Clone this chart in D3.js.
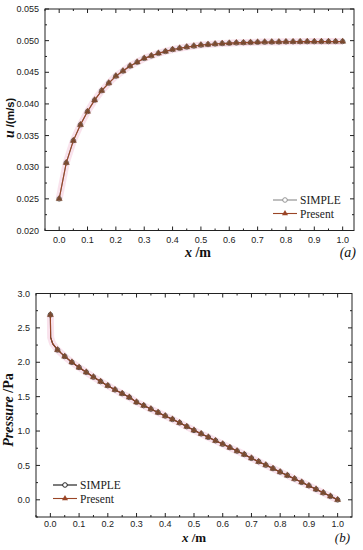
<!DOCTYPE html>
<html><head><meta charset="utf-8">
<script src="https://cdn.jsdelivr.net/npm/d3@7"></script>
<style>body{margin:0;background:#fff}svg{display:block}</style>
</head><body>
<svg id="c" width="363" height="550"></svg>
<script>
// ---------- data ----------
const xPos = [0,0.025,0.05,0.075,0.1,0.125,0.15,0.175,0.2,0.225,0.25,0.275,0.3,0.325,0.35,0.375,0.4,0.425,0.45,0.475,0.5,
  0.525,0.55,0.575,0.6,0.625,0.65,0.675,0.7,0.725,0.75,0.775,0.8,0.825,0.85,0.875,0.9,0.925,0.95,0.975,1.0];
const uSimple = [0.0250,0.0307,0.0342,0.0367,0.0388,0.0406,0.0421,0.0433,0.0444,0.0452,0.0460,0.0466,0.0472,0.0476,0.0480,0.0483,0.0486,0.0488,0.0490,0.04915,0.0493,
  0.0494,0.04948,0.04955,0.0496,0.04965,0.04968,0.04972,0.04975,0.04977,0.04979,0.0498,0.04982,0.04983,0.04984,0.04985,0.04985,0.04986,0.04986,0.04987,0.04987];
const uPresent = [0.0250,0.0307,0.0342,0.0367,0.0388,0.0406,0.0421,0.0433,0.0444,0.0452,0.0460,0.0466,0.0472,0.0476,0.0480,0.0483,0.0486,0.0488,0.0490,0.04915,0.0493,
  0.0494,0.04948,0.04955,0.0496,0.04965,0.04968,0.04972,0.04975,0.04977,0.04979,0.0498,0.04982,0.04983,0.04984,0.04985,0.04985,0.04986,0.04986,0.04987,0.04987];
// pressure: includes two unmarked near-inlet points of the line
const pX = [0,0.001,0.008,0.025,0.05,0.075,0.1,0.125,0.15,0.175,0.2,0.225,0.25,0.275,0.3,0.325,0.35,0.375,0.4,0.425,0.45,0.475,0.5,
  0.525,0.55,0.575,0.6,0.625,0.65,0.675,0.7,0.725,0.75,0.775,0.8,0.825,0.85,0.875,0.9,0.925,0.95,0.975,1.0];
const pSimple = [2.69,2.36,2.27,2.18,2.085,2.00,1.925,1.855,1.785,1.72,1.66,1.60,1.545,1.49,1.42,1.37,1.32,1.27,1.22,1.17,1.12,1.065,1.01,
  0.96,0.91,0.86,0.81,0.76,0.71,0.66,0.605,0.555,0.505,0.455,0.405,0.355,0.305,0.255,0.205,0.153,0.102,0.051,0.0];
const pPresent = [2.69,2.36,2.27,2.18,2.085,2.00,1.925,1.855,1.785,1.72,1.66,1.60,1.545,1.49,1.42,1.37,1.32,1.27,1.22,1.17,1.12,1.065,1.01,
  0.96,0.91,0.86,0.81,0.76,0.71,0.66,0.605,0.555,0.505,0.455,0.405,0.355,0.305,0.255,0.205,0.153,0.102,0.051,0.0];
const xTicks = [0,0.1,0.2,0.3,0.4,0.5,0.6,0.7,0.8,0.9,1.0];
const uTicks = [0.020,0.025,0.030,0.035,0.040,0.045,0.050,0.055];
const pTicks = [0,0.5,1.0,1.5,2.0,2.5,3.0];
const seriesNames = ["SIMPLE","Present"];

// ---------- drawing ----------
const svg = d3.select("#c");
const brown = "#9a4526", gray = "#8a8a8a";
const isMark = x => Math.abs(x*40 - Math.round(x*40)) < 1e-6;

function frame(g, x, y, xt, xMinor, yt, yMinor, xFmt, yFmt, xLabOff) {
  const [x0,x1] = x.range(), [y0,y1] = y.range();
  g.append("rect").attr("x",x0).attr("y",y1).attr("width",x1-x0).attr("height",y0-y1)
    .attr("fill","none").attr("stroke","#222").attr("stroke-width",1);
  const tk = g.append("g").attr("stroke","#222").attr("stroke-width",1);
  xt.forEach(v=>{const px=x(v);
    tk.append("line").attr("x1",px).attr("x2",px).attr("y1",y0).attr("y2",y0-4);
    tk.append("line").attr("x1",px).attr("x2",px).attr("y1",y1).attr("y2",y1+4);});
  xMinor.forEach(v=>{const px=x(v);
    tk.append("line").attr("x1",px).attr("x2",px).attr("y1",y0).attr("y2",y0-2);
    tk.append("line").attr("x1",px).attr("x2",px).attr("y1",y1).attr("y2",y1+2);});
  yt.forEach(v=>{const py=y(v);
    tk.append("line").attr("x1",x0).attr("x2",x0+4).attr("y1",py).attr("y2",py);
    tk.append("line").attr("x1",x1).attr("x2",x1-4).attr("y1",py).attr("y2",py);});
  yMinor.forEach(v=>{const py=y(v);
    tk.append("line").attr("x1",x0).attr("x2",x0+2).attr("y1",py).attr("y2",py);
    tk.append("line").attr("x1",x1).attr("x2",x1-2).attr("y1",py).attr("y2",py);});
  const lab = g.append("g").attr("font-family","'Liberation Sans',Arial,sans-serif").attr("font-size",9).attr("fill","#222");
  xt.forEach(v=>lab.append("text").attr("x",x(v)).attr("y",y0+xLabOff).attr("text-anchor","middle").text(xFmt(v)));
  yt.forEach(v=>lab.append("text").attr("x",x0-6).attr("y",y(v)+3.2).attr("text-anchor","end").text(yFmt(v)));
}

function series(g, x, y, xs, ys, lineColor, kind, markColor) {
  const line = d3.line().x((d,i)=>x(xs[i])).y(d=>y(d));
  g.append("path").attr("d",line(ys)).attr("fill","none").attr("stroke",lineColor).attr("stroke-width",1.1);
  const pts = ys.map((v,i)=>[xs[i],v]).filter(d=>isMark(d[0]));
  if (kind==="circle") {
    g.selectAll(null).data(pts).enter().append("circle").attr("cx",d=>x(d[0])).attr("cy",d=>y(d[1])).attr("r",2.3)
      .attr("fill","#fff").attr("stroke",markColor).attr("stroke-width",0.9);
  } else {
    const tri = d3.symbol().type(d3.symbolTriangle).size(16);
    g.selectAll(null).data(pts).enter().append("path").attr("d",tri)
      .attr("transform",d=>`translate(${x(d[0])},${y(d[1])})`).attr("fill",markColor).attr("stroke",markColor).attr("stroke-width",0.5);
  }
}
function halo(g, x, y, xs, ys) {
  const line = d3.line().x((d,i)=>x(xs[i])).y(d=>y(d));
  g.append("path").attr("d",line(ys)).attr("fill","none").attr("stroke","#f7d6e4").attr("stroke-width",7).attr("stroke-linejoin","round").attr("opacity",0.7);
}
function legend(g, lx, ly, simpleColor) {
  const items = [[seriesNames[0], simpleColor, "circle"],[seriesNames[1], brown, "tri"]];
  items.forEach((it,i)=>{
    const yy = ly + i*13.5;
    g.append("line").attr("x1",lx).attr("x2",lx+24).attr("y1",yy).attr("y2",yy).attr("stroke",it[1]).attr("stroke-width",1.1);
    if (it[2]==="circle") g.append("circle").attr("cx",lx+12).attr("cy",yy).attr("r",2.3).attr("fill","#fff").attr("stroke",it[1]).attr("stroke-width",0.9);
    else g.append("path").attr("d",d3.symbol().type(d3.symbolTriangle).size(16)()).attr("transform",`translate(${lx+12},${yy})`).attr("fill",brown);
    g.append("text").attr("x",lx+27).attr("y",yy+4).attr("font-family","'Liberation Serif','Times New Roman',serif")
      .attr("font-size",11.5).attr("fill","#222").text(it[0]);
  });
}
const serif = "'Liberation Serif','Times New Roman',serif";

// ----- panel (a) -----
const ga = svg.append("g");
const xa = d3.scaleLinear().domain([-0.05,1.04]).range([45,354]);
const ya = d3.scaleLinear().domain([0.020,0.055]).range([230.5,9]);
halo(ga, xa, ya, xPos, uPresent);
series(ga, xa, ya, xPos, uSimple, gray, "circle", "#666");
series(ga, xa, ya, xPos, uPresent, brown, "tri", "#7a4a30");
frame(ga, xa, ya, xTicks, xTicks.slice(0,-1).map(v=>+(v+0.05).toFixed(2)).concat([-0.05]),
  uTicks, uTicks.slice(0,-1).map(v=>+(v+0.0025).toFixed(4)), d3.format(".1f"), d3.format(".3f"), 12.8);
legend(ga, 273, 200, gray);
const ta = ga.append("text").attr("x",198).attr("y",257).attr("text-anchor","middle").attr("font-family",serif).attr("font-size",14).attr("font-weight","bold").attr("fill","#111");
ta.append("tspan").attr("font-style","italic").text("x");
ta.append("tspan").text(" /m");
ga.append("text").attr("x",356).attr("y",257).attr("text-anchor","end").attr("font-family",serif).attr("font-size",14).attr("font-style","italic").attr("fill","#111").text("(a)");
const ya_t = ga.append("text").attr("transform","translate(14,118) rotate(-90)").attr("text-anchor","middle").attr("font-size",13).attr("font-weight","bold").attr("fill","#111");
ya_t.append("tspan").attr("font-family",serif).attr("font-style","italic").attr("font-size",14).text("u");
ya_t.append("tspan").attr("font-family","'Liberation Sans',Arial,sans-serif").attr("font-size",11).text(" /(m/s)");

// ----- panel (b) -----
const gb = svg.append("g");
const xb = d3.scaleLinear().domain([-0.05,1.05]).range([36,352]);
const yb = d3.scaleLinear().domain([-0.25,3.0]).range([517,293.5]);
halo(gb, xb, yb, pX, pPresent);
series(gb, xb, yb, pX, pSimple, "#111", "circle", "#444");
series(gb, xb, yb, pX, pPresent, brown, "tri", "#7a4a30");
frame(gb, xb, yb, xTicks, xTicks.map(v=>+(v+0.05).toFixed(2)).concat([-0.05]).filter(v=>v<1.05),
  pTicks, pTicks.map(v=>v+0.25).filter(v=>v<3).concat([-0.25]), d3.format(".1f"), d3.format(".1f"), 10);
legend(gb, 53, 485, "#111");
const tb = gb.append("text").attr("x",194).attr("y",542).attr("text-anchor","middle").attr("font-family",serif).attr("font-size",13).attr("font-weight","bold").attr("fill","#111");
tb.append("tspan").attr("font-style","italic").text("x");
tb.append("tspan").text(" /m");
gb.append("text").attr("x",350).attr("y",541.5).attr("text-anchor","end").attr("font-family",serif).attr("font-size",13).attr("font-style","italic").attr("fill","#111").text("(b)");
const yb_t = gb.append("text").attr("transform","translate(13,410) rotate(-90)").attr("text-anchor","middle").attr("font-family",serif).attr("font-size",14).attr("font-weight","bold").attr("fill","#111");
yb_t.append("tspan").attr("font-style","italic").text("Pressure");
yb_t.append("tspan").text(" /Pa");
</script>
</body></html>
